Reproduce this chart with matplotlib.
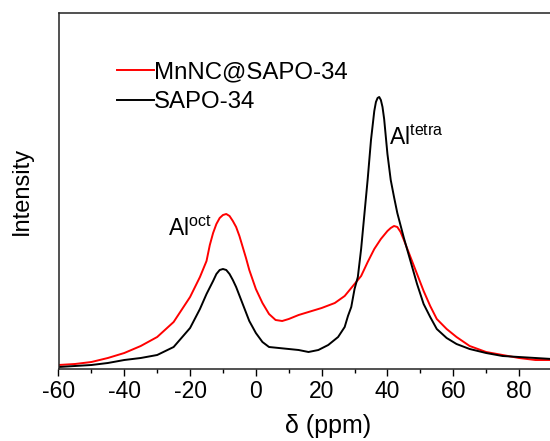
import matplotlib
matplotlib.use("Agg")
import matplotlib.pyplot as plt

plt.rcParams['font.family'] = ['Liberation Sans', 'DejaVu Sans']
plt.rcParams['mathtext.fontset'] = 'custom'
plt.rcParams['mathtext.rm'] = 'Liberation Sans'
plt.rcParams['axes.unicode_minus'] = False

# 27Al NMR spectra, intensity in arbitrary units
shift_mn = [-60, -55, -50, -45, -40, -35, -30, -25, -20, -17, -15, -14, -13, -12, -11, -10, -9, -8, -7, -6,
            -5, -4, -3, -2, 0, 2, 4, 6, 8, 10, 13, 16, 20, 24, 27, 30, 32, 34, 36, 38, 40, 41, 42, 43, 44, 45,
            47, 49, 51, 53, 55, 58, 61, 65, 70, 75, 80, 85, 90]
inten_mn = [4, 5, 7, 11, 16, 23, 32, 47, 72, 92, 108, 124, 136, 145, 151, 154, 155, 153, 148, 142,
            133, 122, 111, 99, 80, 66, 55, 49, 48, 50, 54, 57, 61, 66, 73, 85, 93, 107, 120, 130, 138, 141, 143, 142, 137, 129,
            112, 95, 78, 63, 50, 40, 32, 23, 17, 14, 11, 9, 9]

shift_sapo = [-60, -55, -50, -45, -40, -35, -30, -25, -20, -17, -15, -13, -12, -11, -10, -9, -8, -7, -6, -4,
              -2, 0, 2, 4, 7, 10, 13, 16, 19, 22, 25, 27, 28, 29, 30, 31, 32, 33, 34, 35, 36, 36.5, 37, 37.5,
              38, 38.5, 39, 40, 41, 42, 43, 45, 47, 49, 51, 53, 55, 58, 61, 65, 70, 75, 80, 85, 90]
inten_sapo = [2, 3, 4, 6, 9, 11, 14, 22, 41, 60, 75, 88, 95, 99, 100, 99, 95, 89, 82, 65,
              48, 36, 27, 22, 21, 20, 19, 17, 19, 24, 32, 42, 53, 62, 80, 92, 120, 155, 190, 229, 258, 267, 271, 272,
              269, 262, 250, 215, 189, 172, 156, 131, 108, 85, 65, 52, 40, 31, 25, 20, 16, 13, 12, 11, 10]

xticks = [-60, -40, -20, 0, 20, 40, 60, 80]

fig = plt.figure(figsize=(5.5, 4.41), dpi=100)
ax = fig.add_axes([58.5 / 550, 72 / 441, 561.5 / 550, 356 / 441])

ax.plot(shift_mn, inten_mn, color='#ff0000', lw=1.4, label='MnNC@SAPO-34')
ax.plot(shift_sapo, inten_sapo, color='black', lw=1.4, label='SAPO-34')

ax.set_xlim(-60, 110.7)
ax.set_ylim(0, 356)
ax.set_xticks(xticks)
ax.set_xticks(range(-50, 111, 10), minor=True)
ax.set_yticks([])
ax.tick_params(axis='x', which='major', direction='out', length=5, width=1, labelsize=16.5, pad=3)
ax.tick_params(axis='x', which='minor', direction='out', length=3, width=1)
for s in ax.spines.values():
    s.set_linewidth(1.1)
    s.set_color('#222222')

ax.set_xlabel('δ (ppm)', fontsize=18, va='center')
ax.xaxis.set_label_coords((328 - 58.5) / 561.5, -(426 - 369) / 356)
ax.set_ylabel('Intensity', fontsize=17, va='center')
ax.yaxis.set_label_coords(-(58.5 - 22) / 561.5, (369 - 191) / 356)

ax.text(-26.7, 133, r'Al$^{\mathrm{oct}}$', fontsize=16.5)
ax.text(40.6, 224, r'Al$^{\mathrm{tetra}}$', fontsize=16.5)

ax.legend(loc='upper left', bbox_to_anchor=(117 / 550, 1 - 61 / 441), bbox_transform=fig.transFigure,
          frameon=False, fontsize=17.3, handlelength=1.55, handletextpad=0.0, labelspacing=0.34,
          borderpad=0, borderaxespad=0)

fig.savefig('out.png', dpi=100)
